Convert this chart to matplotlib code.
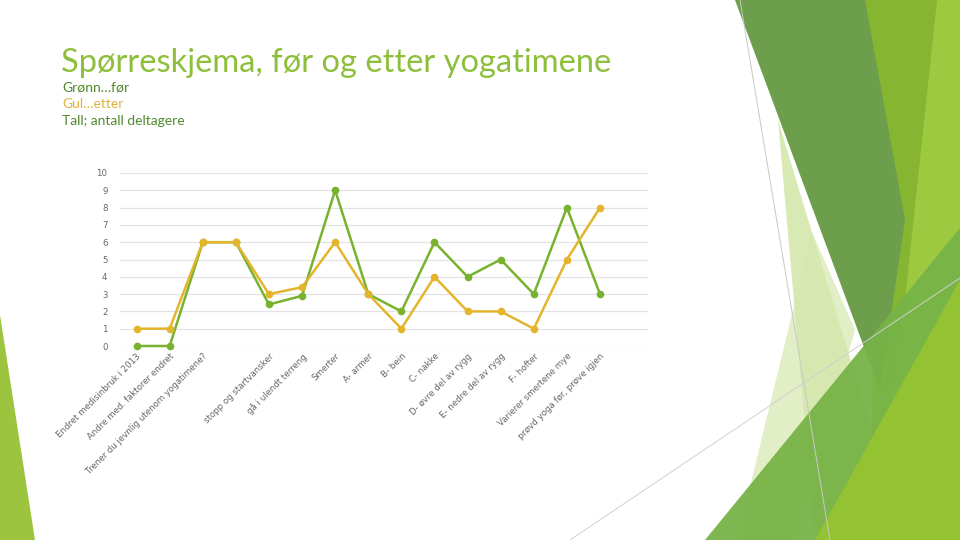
import matplotlib.pyplot as plt
from matplotlib.patches import Polygon

# Data
categories = ["Endret medisinbruk i 2013", "Andre med. faktorer endret",
              "Trener du jevnlig utenom yogatimene?", "",
              "stopp og startvansker", "gå i ulendt terreng", "Smerter",
              "A- armer", "B- bein", "C- nakke", "D- øvre del av rygg",
              "E- nedre del av rygg", "F- hofter", "Varierer smertene mye",
              "prøvd yoga før, prøve igjen"]
for_values = [0, 0, 6, 6, 2.4, 2.9, 9, 3, 2, 6, 4, 5, 3, 8, 3]      # Grønn
etter_values = [1, 1, 6, 6, 3, 3.4, 6, 3, 1, 4, 2, 2, 1, 5, 8]      # Gul

green = '#78b22e'
yellow = '#e4b52c'

fig = plt.figure(figsize=(9.6, 5.4), dpi=100)
W, H = 960, 540


def shape(pts, color, alpha=1.0):
    # slide decoration, pixel coords with y downwards
    xy = [(x / W, 1 - y / H) for x, y in pts]
    fig.patches.append(Polygon(xy, closed=True, transform=fig.transFigure,
                               facecolor=color, edgecolor='none', alpha=alpha, zorder=0))


# decoration on the right side of the slide
shape([(880, 0), (960, 0), (960, 540), (870, 540)], '#9cc93f')
shape([(850, 0), (937, 0), (905, 300), (888, 390)], '#86b532')
shape([(778, 120), (905, 540), (815, 540)], '#d3e6a6', 0.85)
shape([(737, 540), (812, 232), (855, 330), (795, 540)], '#d6e8ae', 0.7)
shape([(735, 0), (865, 0), (905, 220), (880, 390)], '#6c9e4b')
shape([(705, 540), (960, 228), (960, 540)], '#77b347', 0.95)
shape([(815, 540), (960, 280), (960, 540)], '#93c232')
shape([(0, 315), (35, 540), (0, 540)], '#9dc43f')
fig.lines.append(plt.Line2D([740 / W, 830 / W], [1, 0], transform=fig.transFigure,
                            color='#c8c8c8', lw=0.7, zorder=1))
fig.lines.append(plt.Line2D([570 / W, 960 / W], [0, 1 - 278 / H], transform=fig.transFigure,
                            color='#d0d0d0', lw=0.7, zorder=1))

# Titles
fig.text(61 / W, 1 - 72 / H, "Spørreskjema, før og etter yogatimene",
         fontsize=23.5, color='#8dbf3b', family='Lato', va='baseline')
fig.text(62 / W, 1 - 91 / H, "Grønn…før", fontsize=10, color='#4f8a2c',
         family='Lato', va='baseline')
fig.text(62 / W, 1 - 108 / H, "Gul…etter", fontsize=10, color='#e0b23a',
         family='Lato', va='baseline')
fig.text(62 / W, 1 - 125 / H, "Tall; antall deltagere", fontsize=10, color='#4f8a2c',
         family='Lato', va='baseline')

# Chart
ax = fig.add_axes([120 / W, 1 - 346 / H, 528 / W, 173 / H])
ax.patch.set_alpha(0)
x = range(len(categories))
ax.plot(x, for_values, color=green, lw=1.8, marker='o', ms=4.5, clip_on=False, zorder=3)
ax.plot(x, etter_values, color=yellow, lw=1.8, marker='o', ms=4.5, clip_on=False, zorder=4)

ax.set_xlim(-0.5, 15.45)
ax.set_ylim(0, 10)
ax.set_yticks(range(0, 11))
ax.yaxis.grid(True, color='#e3e3e3', lw=0.9)
ax.set_axisbelow(True)
for s in ax.spines.values():
    s.set_visible(False)
ax.tick_params(length=0, labelsize=6.2, labelcolor='#666666')
ax.tick_params(axis='y', pad=9)
ax.set_xticks(list(x))
ax.set_xticklabels(categories, rotation=45, ha='right', rotation_mode='anchor')
ax.tick_params(axis='x', pad=4)

fig.savefig('out.png', dpi=100)
